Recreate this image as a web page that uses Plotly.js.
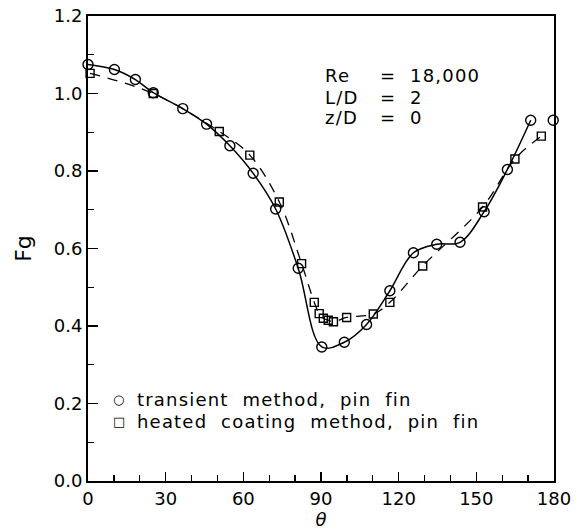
<!DOCTYPE html>
<html>
<head>
<meta charset="utf-8">
<script src="https://cdn.plot.ly/plotly-3.0.1.min.js"></script>
<style>
html,body{margin:0;padding:0;background:#fff;}
.annotation-text{letter-spacing:1.2px;}
</style>
</head>
<body>
<div id="chart" style="width:588px;height:530px;"></div>
<script>
// transient method, pin fin (circles)
var transTheta = [0, 10.2, 18.3, 25.2, 36.6, 45.8, 54.8, 63.8, 72.5, 81.2, 90.3, 99, 107.6, 116.6, 125.7, 134.7, 143.7, 153, 162, 171, 179.7];
var transFg    = [1.075, 1.062, 1.036, 1.002, 0.961, 0.921, 0.865, 0.794, 0.702, 0.549, 0.346, 0.358, 0.404, 0.491, 0.589, 0.611, 0.616, 0.695, 0.804, 0.931, 0.931];
// heated coating method, pin fin (squares)
var heatTheta = [0.8, 25.2, 50.7, 62.5, 73.9, 82.5, 87.4, 89.3, 90.9, 92.8, 94.8, 99.9, 110.2, 116.6, 129.3, 152.4, 164.9, 175.1];
var heatFg    = [1.052, 1.0, 0.902, 0.841, 0.72, 0.561, 0.461, 0.432, 0.42, 0.415, 0.411, 0.422, 0.431, 0.461, 0.555, 0.707, 0.831, 0.89];
// curve through the transient data stops at the last connected point
var transCurveCount = 20;

var xTicks = [0, 30, 60, 90, 120, 150, 180];
var yTicks = [0.0, 0.2, 0.4, 0.6, 0.8, 1.0, 1.2];
var yTickText = ['0.0', '0.2', '0.4', '0.6', '0.8', '1.0', '1.2'];

var paramNames = ['Re', 'L/D', 'z/D'];
var paramValues = ['18,000', '2', '0'];

var seriesNames = ['transient method, pin fin', 'heated coating method, pin fin'];
var seriesGlyphs = ['\u25CB', '\u25A1'];

var FONT = 'DejaVu Sans, Arial, sans-serif';

var traces = [
  {
    x: transTheta.slice(0, transCurveCount), y: transFg.slice(0, transCurveCount),
    mode: 'lines', line: {color: '#000', width: 1.5, shape: 'spline', smoothing: 1},
    showlegend: false, hoverinfo: 'skip'
  },
  {
    x: heatTheta, y: heatFg,
    mode: 'lines', line: {color: '#000', width: 1.3, shape: 'spline', smoothing: 1, dash: '10px,8px'},
    showlegend: false, hoverinfo: 'skip'
  },
  {
    x: transTheta, y: transFg, name: seriesNames[0],
    mode: 'markers', marker: {symbol: 'circle-open', size: 10, color: '#000', line: {width: 1.4, color: '#000'}},
    cliponaxis: false, showlegend: false
  },
  {
    x: heatTheta, y: heatFg, name: seriesNames[1],
    mode: 'markers', marker: {symbol: 'square-open', size: 8, color: '#000', line: {width: 1.4, color: '#000'}},
    cliponaxis: false, showlegend: false
  }
];

var ann = [];
var rowY = [1.047, 0.99, 0.939];
for (var i = 0; i < paramNames.length; i++) {
  ann.push({x: 90.8, y: rowY[i], xref: 'x', yref: 'y', text: paramNames[i], showarrow: false, xanchor: 'left', yanchor: 'middle', font: {family: FONT, size: 18, color: '#000'}});
  ann.push({x: 112, y: rowY[i], xref: 'x', yref: 'y', text: '=', showarrow: false, xanchor: 'left', yanchor: 'middle', font: {family: FONT, size: 18, color: '#000'}});
  ann.push({x: 123.6, y: rowY[i], xref: 'x', yref: 'y', text: paramValues[i], showarrow: false, xanchor: 'left', yanchor: 'middle', font: {family: FONT, size: 18, color: '#000'}});
}
// legend (drawn as text rows)
var legY = [0.176, 0.129];
for (var j = 0; j < seriesNames.length; j++) {
  ann.push({x: 0.068, y: legY[j], xref: 'paper', yref: 'paper', text: seriesGlyphs[j], showarrow: false, xanchor: 'center', yanchor: 'middle', font: {family: FONT, size: 13, color: '#000'}});
  ann.push({x: 0.1, y: legY[j], xref: 'paper', yref: 'paper', text: seriesNames[j].split(' ').join('\u00a0\u00a0'), showarrow: false, xanchor: 'left', yanchor: 'middle', font: {family: FONT, size: 18, color: '#000'}});
}

var layout = {
  width: 588, height: 530,
  margin: {l: 88, r: 34, t: 16, b: 49},
  paper_bgcolor: '#fff', plot_bgcolor: '#fff',
  font: {family: FONT, size: 18, color: '#000'},
  xaxis: {
    range: [0, 180], tickvals: xTicks, ticktext: xTicks.map(String),
    ticks: 'inside', ticklen: 9, tickwidth: 1.5, tickcolor: '#000',
    minor: {dtick: 10, ticks: 'inside', ticklen: 6, tickwidth: 1.3, tickcolor: '#000', showgrid: false},
    showline: true, linewidth: 2, linecolor: '#000', mirror: true,
    showgrid: false, zeroline: false,
    tickfont: {family: FONT, size: 18, color: '#000'},
    title: {text: '<i>θ</i>', font: {family: FONT, size: 18, color: '#000'}, standoff: 0}
  },
  yaxis: {
    range: [0, 1.2], tickvals: yTicks, ticktext: yTickText,
    ticks: 'inside', ticklen: 10, tickwidth: 1.5, tickcolor: '#000',
    minor: {dtick: 0.1, ticks: 'inside', ticklen: 6, tickwidth: 1.3, tickcolor: '#000', showgrid: false},
    showline: true, linewidth: 2, linecolor: '#000', mirror: true,
    showgrid: false, zeroline: false,
    tickfont: {family: FONT, size: 18, color: '#000'},
    title: {text: 'Fg', font: {family: FONT, size: 22, color: '#000'}, standoff: 16}
  },
  showlegend: false,
  annotations: ann
};

Plotly.newPlot('chart', traces, layout, {staticPlot: true, displayModeBar: false});
</script>
</body>
</html>
